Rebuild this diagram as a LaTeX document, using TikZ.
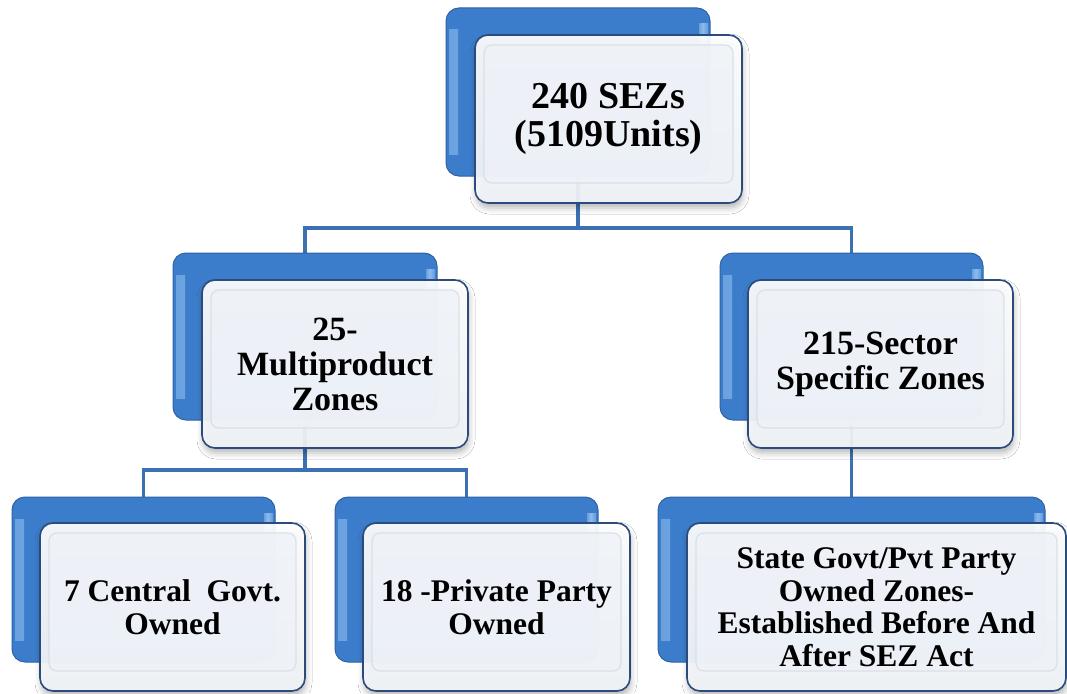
\documentclass[tikz,border=0pt]{standalone}
\usepackage{fontspec}
\setmainfont{Liberation Serif}
\usetikzlibrary{shadows.blur}

\definecolor{backblue}{HTML}{3C7DCB}
\definecolor{backedge}{HTML}{2E62A6}
\definecolor{backhi}{HTML}{8CBCEE}
\definecolor{frontedge}{HTML}{2A4B7C}
\definecolor{fronttop}{HTML}{FFFFFF}
\definecolor{frontbot}{HTML}{F2F5F9}
\definecolor{panelfill}{HTML}{EEF2F8}
\definecolor{paneledge}{HTML}{D6DCE5}
\definecolor{connblue}{HTML}{3B71B3}

% soft vertical glint along the plate edges
\pgfdeclarehorizontalshading{glint}{100bp}{color(0bp)=(backblue); color(45bp)=(backhi); color(100bp)=(backblue)}

\begin{document}
\begin{tikzpicture}[x=1pt,y=-1pt,
  conn/.style={draw=connblue, line width=3.2pt},
  plate/.style={rectangle, inner sep=0pt},
  backbox/.style={plate, rounded corners=13pt, draw=backedge, line width=1pt,
    fill=backblue,
    path picture={
      \shade[shading=glint, sharp corners]
        ([shift={(3pt,-22pt)}]path picture bounding box.north west)
        rectangle ([shift={(12pt,22pt)}]path picture bounding box.south west);
      \shade[shading=glint, sharp corners]
        ([shift={(-11pt,-16pt)}]path picture bounding box.north east)
        rectangle ([shift={(-2pt,-36pt)}]path picture bounding box.north east);
    }},
  frontbox/.style={rounded corners=13pt, draw=frontedge, line width=1.6pt,
    top color=fronttop, bottom color=frontbot, fill opacity=0.93, text opacity=1,
    inner sep=0pt, align=center,
    blur shadow={shadow xshift=1pt, shadow yshift=-5pt,
      shadow blur radius=6pt, shadow opacity=30},
    path picture={
      \draw[rounded corners=8pt, draw=paneledge, line width=1.2pt,
        fill=panelfill, fill opacity=0.8, draw opacity=0.8]
        ([shift={(9pt,-10pt)}]path picture bounding box.north west)
        rectangle ([shift={(-9pt,20pt)}]path picture bounding box.south east);
    }},
  toptext/.style={font=\fontsize{38}{38}\selectfont\bfseries},
  midtext/.style={font=\fontsize{34}{35}\selectfont\bfseries},
  lowtext/.style={font=\fontsize{31.5}{32.5}\selectfont\bfseries}
]
\useasboundingbox (0,0) rectangle (1067,693);
\fill[white] (0,0) rectangle (1067,693);

% plate outlines (named, not yet painted)
\node[plate, minimum width=264pt, minimum height=168pt] (topB) at (578,92) {};
\node[plate, minimum width=264pt, minimum height=167pt] (mlB) at (305,336.5) {};
\node[plate, minimum width=263pt, minimum height=167pt] (mrB) at (851.5,336.5) {};
\node[plate, minimum width=263pt, minimum height=165pt] (blB) at (143.5,579.5) {};
\node[plate, minimum width=263pt, minimum height=165pt] (bmB) at (466.5,579.5) {};
\node[plate, minimum width=387pt, minimum height=165pt] (brB) at (851.5,579.5) {};

% bus levels
\coordinate (bus1) at (0,228);
\coordinate (bus2) at (0,470);

% connectors
\draw[conn] (topB.center) -- (topB.center |- bus1) -| (mlB.center);
\draw[conn] (topB.center |- bus1) -| (mrB.center);
\draw[conn] (mlB.center) -- (mlB.center |- bus2) -| (blB.center);
\draw[conn] (mlB.center |- bus2) -| (bmB.center);
\draw[conn] (mrB.center) -- (brB.center);

% blue back plates, painted over the connectors
\node[backbox, minimum width=264pt, minimum height=168pt] at (topB) {};
\node[backbox, minimum width=264pt, minimum height=167pt] at (mlB) {};
\node[backbox, minimum width=263pt, minimum height=167pt] at (mrB) {};
\node[backbox, minimum width=263pt, minimum height=165pt] at (blB) {};
\node[backbox, minimum width=263pt, minimum height=165pt] at (bmB) {};
\node[backbox, minimum width=387pt, minimum height=165pt] at (brB) {};

% front cards
\node[frontbox, toptext, minimum width=267pt, minimum height=168pt] (topF) at (608.5,119)
  {240 SEZs\\(5109Units)};
\node[frontbox, midtext, minimum width=266pt, minimum height=168pt] (mlF) at (335,364)
  {25-\\Multiproduct\\Zones};
\node[frontbox, midtext, minimum width=265pt, minimum height=168pt] (mrF) at (880.5,364)
  {215-Sector\\Specific Zones};
\node[frontbox, lowtext, minimum width=265pt, minimum height=168pt] (blF) at (172.5,607)
  {7 Central~ Govt.\\Owned};
\node[frontbox, lowtext, minimum width=267pt, minimum height=168pt] (bmF) at (496.5,607)
  {18 -Private Party\\Owned};
\node[frontbox, lowtext, minimum width=379pt, minimum height=168pt] (brF) at (876.5,607)
  {State Govt/Pvt Party\\Owned Zones-\\Established Before And\\After SEZ Act};
\end{tikzpicture}
\end{document}
